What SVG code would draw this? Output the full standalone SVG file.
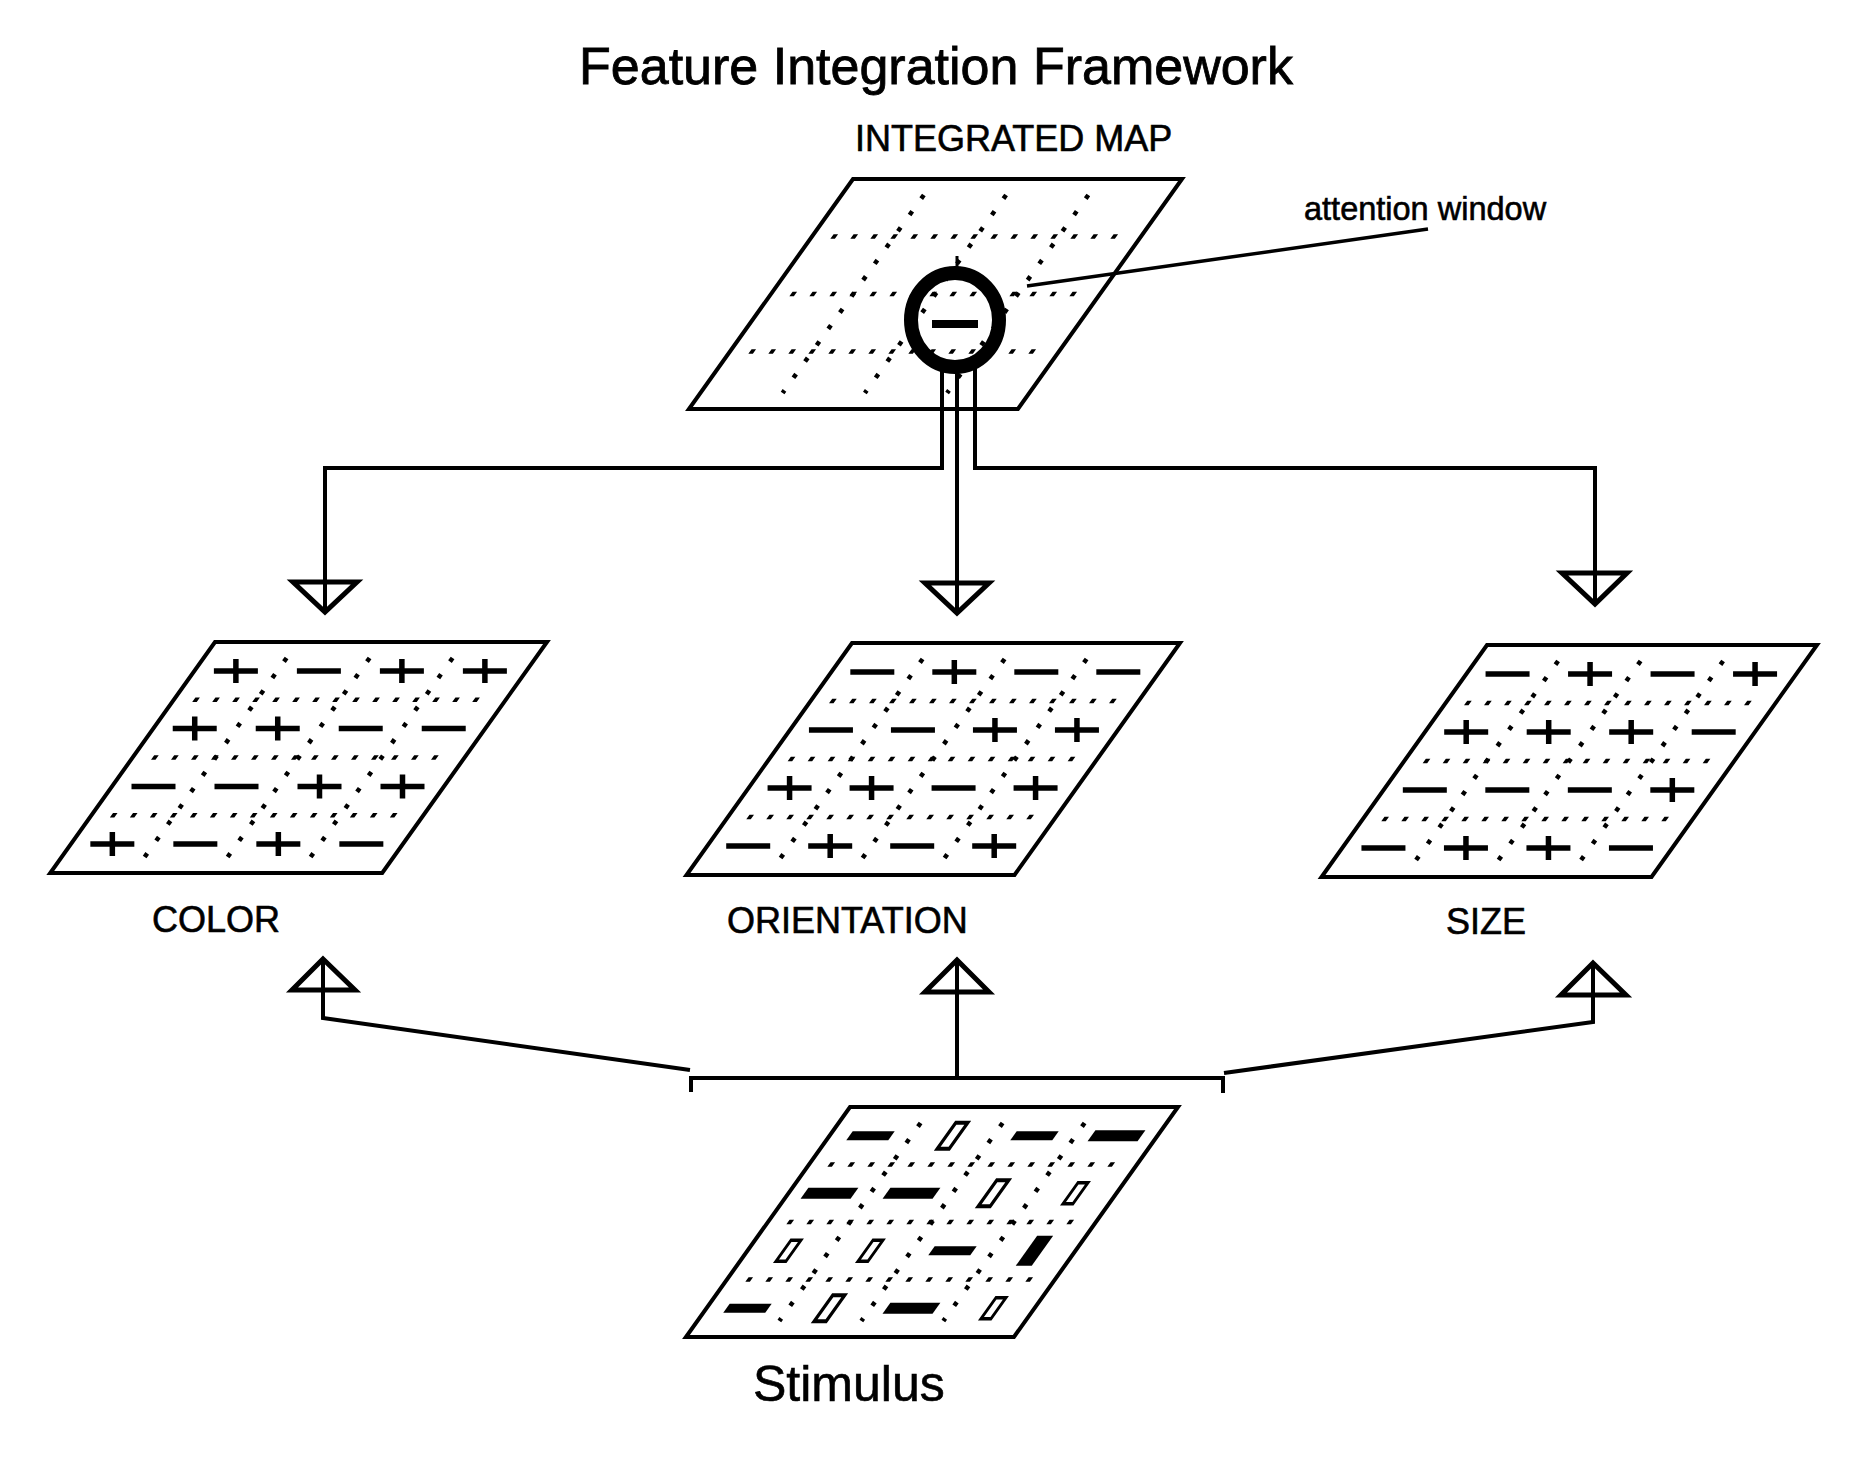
<svg xmlns="http://www.w3.org/2000/svg" width="1862" height="1460" viewBox="0 0 1862 1460">
<style>
text{font-family:"Liberation Sans",Arial,Helvetica,sans-serif;fill:#000;stroke:#000;stroke-width:0.6}
.frame{fill:#fff;stroke:#000;stroke-width:4;vector-effect:non-scaling-stroke;stroke-linejoin:miter}
.hd{fill:none;stroke:#000;stroke-width:4.5;stroke-dasharray:4.5 15.5}
.sd{fill:none;stroke:#000;stroke-width:4.5;stroke-dasharray:4.5 15.5}
.ln{fill:none;stroke:#000;stroke-width:4;stroke-linejoin:miter}
.tri{fill:none;stroke:#000;stroke-width:5;stroke-linejoin:miter}
.lbl{font-size:36px}
</style>
<defs>
<path id="plus" d="M-22,0H22M0,-12V12" fill="none" stroke="#000" stroke-width="5.5"/>
<path id="minus" d="M-22,0H22" fill="none" stroke="#000" stroke-width="5.5"/>
<rect id="hs" x="-21" y="-4.5" width="42" height="9" fill="#000"/>
<rect id="hl" x="-25" y="-5.5" width="50" height="11" fill="#000"/>
<rect id="vlh" x="-6" y="-13" width="12" height="26" fill="#fff" stroke="#000" stroke-width="4"/>
<rect id="vsh" x="-5" y="-10.5" width="10" height="21" fill="#fff" stroke="#000" stroke-width="3.5"/>
<rect id="vlf" x="-8" y="-15" width="16" height="30" fill="#000"/>
</defs>
<rect width="1862" height="1460" fill="#fff"/>
<text x="936" y="84" font-size="52" text-anchor="middle" style="stroke-width:0.8">Feature Integration Framework</text>

<g id="integrated-map">
<text class="lbl" x="855" y="151">INTEGRATED MAP</text>
<g transform="translate(853,179) skewX(-35.5)">
<rect class="frame" width="329" height="230"/>
<path class="hd" d="M20,57.5H309M20,115H309M20,172.5H309"/>
</g>
<path class="sd" d="M923.84,195L782.61,393M1006.09,195L864.86,393M1088.34,195L947.11,393"/>
<ellipse cx="955" cy="320" rx="44" ry="47" fill="none" stroke="#000" stroke-width="14"/>
<path d="M932,324H978" stroke="#000" stroke-width="8"/>
<path d="M957,256V268" stroke="#000" stroke-width="3"/>
<path d="M1027,286L1428,229" stroke="#000" stroke-width="3.5"/>
<text x="1304" y="220" font-size="32.5">attention window</text>
</g>

<g id="color-map">
<g transform="translate(215,642) skewX(-35.5)">
<rect class="frame" width="332" height="231"/>
<path class="hd" d="M20,57.75H312M20,115.5H312M20,173.25H312"/>
<use href="#plus" transform="translate(41.5,28.9) skewX(35.5)"/>
<use href="#minus" transform="translate(124.5,28.9) skewX(35.5)"/>
<use href="#plus" transform="translate(207.5,28.9) skewX(35.5)"/>
<use href="#plus" transform="translate(290.5,28.9) skewX(35.5)"/>
<use href="#plus" transform="translate(41.5,86.6) skewX(35.5)"/>
<use href="#plus" transform="translate(124.5,86.6) skewX(35.5)"/>
<use href="#minus" transform="translate(207.5,86.6) skewX(35.5)"/>
<use href="#minus" transform="translate(290.5,86.6) skewX(35.5)"/>
<use href="#minus" transform="translate(41.5,144.4) skewX(35.5)"/>
<use href="#minus" transform="translate(124.5,144.4) skewX(35.5)"/>
<use href="#plus" transform="translate(207.5,144.4) skewX(35.5)"/>
<use href="#plus" transform="translate(290.5,144.4) skewX(35.5)"/>
<use href="#plus" transform="translate(41.5,202.1) skewX(35.5)"/>
<use href="#minus" transform="translate(124.5,202.1) skewX(35.5)"/>
<use href="#plus" transform="translate(207.5,202.1) skewX(35.5)"/>
<use href="#minus" transform="translate(290.5,202.1) skewX(35.5)"/>
</g>
<path class="sd" d="M286.59,658L144.64,857M369.59,658L227.64,857M452.59,658L310.64,857"/>
<text class="lbl" x="152" y="932">COLOR</text>
</g>

<g id="orientation-map">
<g transform="translate(852,643) skewX(-35.5)">
<rect class="frame" width="328" height="232"/>
<path class="hd" d="M20,58H308M20,116H308M20,174H308"/>
<use href="#minus" transform="translate(41,29) skewX(35.5)"/>
<use href="#plus" transform="translate(123,29) skewX(35.5)"/>
<use href="#minus" transform="translate(205,29) skewX(35.5)"/>
<use href="#minus" transform="translate(287,29) skewX(35.5)"/>
<use href="#minus" transform="translate(41,87) skewX(35.5)"/>
<use href="#minus" transform="translate(123,87) skewX(35.5)"/>
<use href="#plus" transform="translate(205,87) skewX(35.5)"/>
<use href="#plus" transform="translate(287,87) skewX(35.5)"/>
<use href="#plus" transform="translate(41,145) skewX(35.5)"/>
<use href="#plus" transform="translate(123,145) skewX(35.5)"/>
<use href="#minus" transform="translate(205,145) skewX(35.5)"/>
<use href="#plus" transform="translate(287,145) skewX(35.5)"/>
<use href="#minus" transform="translate(41,203) skewX(35.5)"/>
<use href="#plus" transform="translate(123,203) skewX(35.5)"/>
<use href="#minus" transform="translate(205,203) skewX(35.5)"/>
<use href="#plus" transform="translate(287,203) skewX(35.5)"/>
</g>
<path class="sd" d="M922.59,659L779.93,859M1004.59,659L861.93,859M1086.59,659L943.93,859"/>
<text class="lbl" x="727" y="933">ORIENTATION</text>
</g>

<g id="size-map">
<g transform="translate(1487,645) skewX(-35.5)">
<rect class="frame" width="330" height="232"/>
<path class="hd" d="M20,58H310M20,116H310M20,174H310"/>
<use href="#minus" transform="translate(41.25,29) skewX(35.5)"/>
<use href="#plus" transform="translate(123.75,29) skewX(35.5)"/>
<use href="#minus" transform="translate(206.25,29) skewX(35.5)"/>
<use href="#plus" transform="translate(288.75,29) skewX(35.5)"/>
<use href="#plus" transform="translate(41.25,87) skewX(35.5)"/>
<use href="#plus" transform="translate(123.75,87) skewX(35.5)"/>
<use href="#plus" transform="translate(206.25,87) skewX(35.5)"/>
<use href="#minus" transform="translate(288.75,87) skewX(35.5)"/>
<use href="#minus" transform="translate(41.25,145) skewX(35.5)"/>
<use href="#minus" transform="translate(123.75,145) skewX(35.5)"/>
<use href="#minus" transform="translate(206.25,145) skewX(35.5)"/>
<use href="#plus" transform="translate(288.75,145) skewX(35.5)"/>
<use href="#minus" transform="translate(41.25,203) skewX(35.5)"/>
<use href="#plus" transform="translate(123.75,203) skewX(35.5)"/>
<use href="#plus" transform="translate(206.25,203) skewX(35.5)"/>
<use href="#minus" transform="translate(288.75,203) skewX(35.5)"/>
</g>
<path class="sd" d="M1558.09,661L1415.43,861M1640.59,661L1497.93,861M1723.09,661L1580.43,861"/>
<text class="lbl" x="1446" y="934">SIZE</text>
</g>

<g id="stimulus">
<g transform="translate(850,1107) skewX(-35.5)">
<rect class="frame" width="328" height="230"/>
<path class="hd" d="M20,57.5H308M20,115H308M20,172.5H308"/>
<use href="#hs" transform="translate(41,28.75)"/>
<use href="#vlh" transform="translate(123,28.75)"/>
<use href="#hs" transform="translate(205,28.75)"/>
<use href="#hl" transform="translate(287,28.75)"/>
<use href="#hl" transform="translate(41,86.25)"/>
<use href="#hl" transform="translate(123,86.25)"/>
<use href="#vlh" transform="translate(205,86.25)"/>
<use href="#vsh" transform="translate(287,86.25)"/>
<use href="#vsh" transform="translate(41,143.75)"/>
<use href="#vsh" transform="translate(123,143.75)"/>
<use href="#hs" transform="translate(205,143.75)"/>
<use href="#vlf" transform="translate(287,143.75)"/>
<use href="#hs" transform="translate(41,201.25)"/>
<use href="#vlh" transform="translate(123,201.25)"/>
<use href="#hl" transform="translate(205,201.25)"/>
<use href="#vsh" transform="translate(287,201.25)"/>
</g>
<path class="sd" d="M920.59,1123L779.36,1321M1002.59,1123L861.36,1321M1084.59,1123L943.36,1321"/>
<text x="753" y="1401" font-size="50">Stimulus</text>
</g>

<g id="connectors">
<path class="ln" d="M942,368V468H325V612"/>
<path class="ln" d="M957,368V613"/>
<path class="ln" d="M975,368V468H1595V604"/>
<path class="tri" d="M293,582H357L325,612Z"/>
<path class="tri" d="M925,583H989L957,613Z"/>
<path class="tri" d="M1562,573H1627L1595,604Z"/>
<path class="ln" d="M323,959V1018L690,1070"/>
<path class="ln" d="M957,960V1076"/>
<path class="ln" d="M1593,963V1022L1224,1073"/>
<path class="tri" d="M323,959L355,990H292Z"/>
<path class="tri" d="M957,960L989,992H925Z"/>
<path class="tri" d="M1593,963L1626,995H1561Z"/>
<path class="ln" d="M691,1092V1078H1223V1093"/>
</g>
</svg>
